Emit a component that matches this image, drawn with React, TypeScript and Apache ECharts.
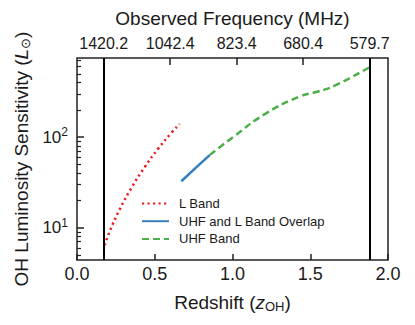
import React, { useEffect, useRef } from "react";
import * as echarts from "echarts";

// Redshift values and OH luminosity sensitivity (L_sun)
const lBandZ = [0.178, 0.21, 0.275, 0.35, 0.436, 0.521, 0.607, 0.66];
const lBandL = [6.4, 9.1, 16.0, 27.5, 46.9, 74.2, 111.6, 140];
const overlapZ = [0.671, 0.763, 0.855];
const overlapL = [32.6, 45.7, 63.7];
const uhfZ = [0.855, 1.003, 1.218, 1.432, 1.55, 1.66, 1.882];
const uhfL = [63.7, 100, 184, 281, 319, 372, 594];

// vertical band edges (redshift)
const bandEdgesZ = [0.172, 1.882];

// top axis: observed frequency tick positions (in z) and labels
const topTickZ = [0.172, 0.5995, 1.027, 1.4545, 1.882];
const topTickLabels = ["1420.2", "1042.4", "823.4", "680.4", "579.7"];

// y-axis range and ticks (L_sun)
const yMin = 4.4;
const yMax = 748;
const yMajorTicks = [10, 100];
const yMinorTicks = [5, 6, 7, 8, 9, 20, 30, 40, 50, 60, 70, 80, 90, 200, 300, 400, 500, 600, 700];

const FONT = "'Liberation Sans', Arial, Helvetica, sans-serif";
const TXT = "#1a1a1a";

export default function App() {
  const ref = useRef<HTMLDivElement>(null);
  useEffect(() => {
    if (!ref.current) return;
    const chart = echarts.init(ref.current, null, { renderer: "svg" });
    const lg = (v: number) => Math.log10(v);
    const toPts = (zs: number[], ls: number[]) => zs.map((z, i) => [z, lg(ls[i])]);
    const majorLog = yMajorTicks.map(lg);
    const minorLog = yMinorTicks.map(lg);

    const option: any = {
      animation: false,
      textStyle: { fontFamily: FONT },
      grid: {
        left: 77,
        right: 27,
        top: 58,
        bottom: 65,
        show: true,
        borderColor: "#222",
        borderWidth: 1.5,
        backgroundColor: "transparent",
      },
      legend: {
        data: ["L Band", "UHF and L Band Overlap", "UHF Band"],
        orient: "vertical",
        left: 141,
        top: 197,
        padding: 0,
        itemWidth: 27,
        itemHeight: 14,
        itemGap: 4.7,
        itemStyle: { opacity: 0 },
        textStyle: { fontSize: 13, color: TXT, fontFamily: FONT, padding: [0, 0, 0, 5] },
      },
      xAxis: [
        {
          type: "value",
          min: 0,
          max: 2,
          interval: 0.5,
          position: "bottom",
          axisLine: { show: false },
          axisTick: { inside: true, length: 6, lineStyle: { color: "#222", width: 1.5 } },
          axisLabel: {
            fontSize: 18,
            color: TXT,
            margin: 5,
            fontFamily: FONT,
            formatter: (v: number) => v.toFixed(1),
          },
          splitLine: { show: false },
          name: "{n|Redshift (}{i|z}{s|OH}{n|)}",
          nameLocation: "middle",
          nameGap: 32,
          nameTextStyle: {
            rich: {
              n: { fontSize: 19, color: TXT, fontFamily: FONT },
              i: { fontSize: 19, color: TXT, fontFamily: FONT, fontStyle: "italic" },
              s: { fontSize: 13, color: TXT, fontFamily: FONT, padding: [8, 0, 0, 0] },
            },
          },
        },
        {
          type: "value",
          min: 0,
          max: 2,
          position: "top",
          axisLine: { show: false },
          axisTick: {
            inside: true,
            length: 7,
            customValues: topTickZ,
            lineStyle: { color: "#222", width: 1.5 },
          },
          axisLabel: {
            customValues: topTickZ,
            fontSize: 16,
            color: TXT,
            margin: 7,
            fontFamily: FONT,
            formatter: (v: number) => {
              let best = 0;
              topTickZ.forEach((z, i) => {
                if (Math.abs(z - v) < Math.abs(topTickZ[best] - v)) best = i;
              });
              return topTickLabels[best];
            },
          },
          splitLine: { show: false },
          name: "Observed Frequency (MHz)",
          nameLocation: "middle",
          nameGap: 30,
          nameTextStyle: { fontSize: 19, color: TXT, fontFamily: FONT },
        },
      ],
      yAxis: [
        {
          type: "value",
          min: lg(yMin),
          max: lg(yMax),
          position: "left",
          axisLine: { show: false },
          axisTick: {
            inside: true,
            length: 7,
            customValues: majorLog,
            lineStyle: { color: "#222", width: 1.5 },
          },
          axisLabel: {
            customValues: majorLog,
            margin: 9,
            formatter: (v: number) => `{a|10}{b|${Math.round(v)}}`,
            rich: {
              a: { fontSize: 17, color: TXT, fontFamily: FONT },
              b: { fontSize: 12, color: TXT, fontFamily: FONT, padding: [0, 0, 10, 0] },
            },
          },
          splitLine: { show: false },
          name: "{n|OH Luminosity Sensitivity (}{i|L}{s|⊙}{n|)}",
          nameLocation: "middle",
          nameRotate: 90,
          nameGap: 45,
          nameTextStyle: {
            rich: {
              n: { fontSize: 19, color: TXT, fontFamily: FONT },
              i: { fontSize: 19, color: TXT, fontFamily: FONT, fontStyle: "italic" },
              s: { fontSize: 13, color: TXT, fontFamily: FONT, padding: [8, 0, 0, 0] },
            },
          },
        },
        {
          type: "value",
          min: lg(yMin),
          max: lg(yMax),
          position: "left",
          axisLine: { show: false },
          axisTick: {
            inside: true,
            length: 4,
            customValues: minorLog,
            lineStyle: { color: "#222", width: 1.2 },
          },
          axisLabel: { show: false },
          splitLine: { show: false },
        },
      ],
      series: [
        {
          name: "L Band",
          type: "line",
          data: toPts(lBandZ, lBandL),
          smooth: true,
          symbol: "none",
          lineStyle: { color: "#ee1c1c", width: 2.5, type: [2.2, 3.3] },
          itemStyle: { color: "#ee1c1c" },
          markLine: {
            silent: true,
            symbol: ["none", "none"],
            label: { show: false },
            lineStyle: { color: "#000", width: 2, type: "solid" },
            emphasis: { disabled: true },
            data: bandEdgesZ.map((z) => ({ xAxis: z })),
          },
        },
        {
          name: "UHF and L Band Overlap",
          type: "line",
          data: toPts(overlapZ, overlapL),
          smooth: true,
          symbol: "none",
          lineStyle: { color: "#377eb8", width: 2.5, type: "solid" },
          itemStyle: { color: "#377eb8" },
        },
        {
          name: "UHF Band",
          type: "line",
          data: toPts(uhfZ, uhfL),
          smooth: true,
          symbol: "none",
          lineStyle: { color: "#4daf4a", width: 2.5, type: [7, 4] },
          itemStyle: { color: "#4daf4a" },
        },
      ],
    };
    chart.setOption(option);
    return () => chart.dispose();
  }, []);
  return (
    <div
      ref={ref}
      style={{ position: "fixed", left: 0, top: 0, width: 415, height: 325, background: "#fff" }}
    />
  );
}
